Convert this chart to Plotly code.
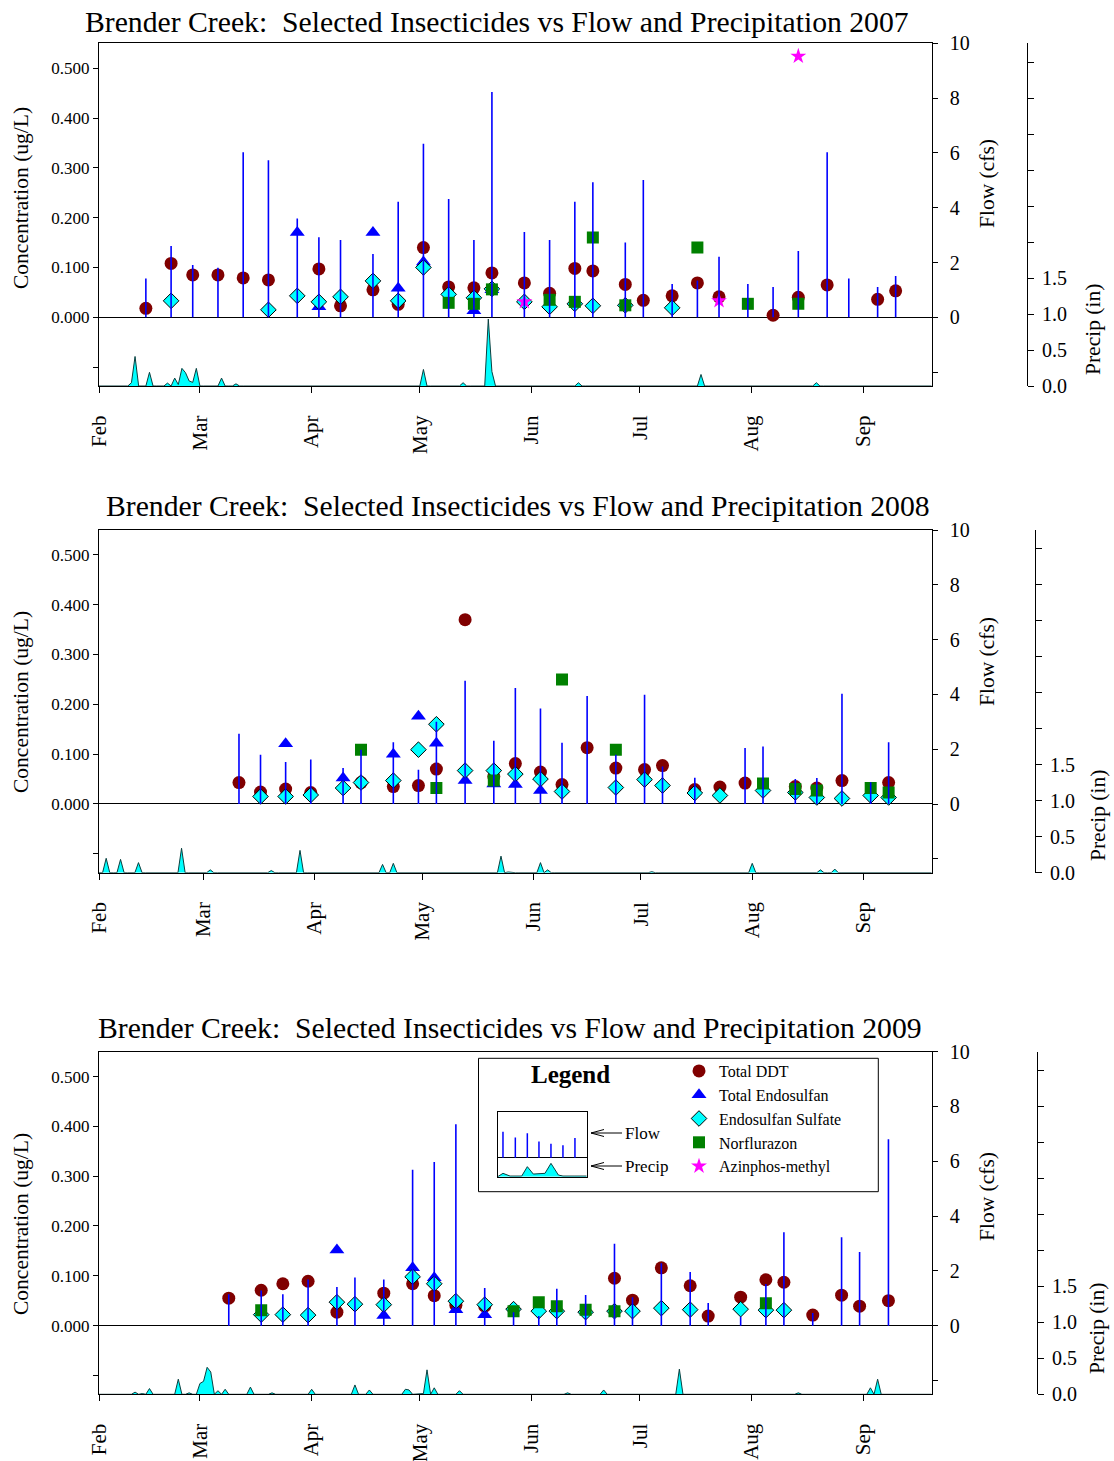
import pandas as pd
import plotly.graph_objects as go

FONT = "Liberation Serif"

# ---------------- 2007 ----------------
flow07_dates = ["2007-02-14","2007-02-21","2007-02-27","2007-03-06","2007-03-13","2007-03-20","2007-03-28","2007-04-03","2007-04-09","2007-04-18","2007-04-25","2007-05-02","2007-05-09","2007-05-16","2007-05-21","2007-05-30","2007-06-06","2007-06-13","2007-06-18","2007-06-27","2007-07-02","2007-07-10","2007-07-17","2007-07-23","2007-07-31","2007-08-07","2007-08-14","2007-08-22","2007-08-28","2007-09-05","2007-09-10"]
flow07 = [1.42,2.60,1.91,1.81,6.02,5.73,3.61,2.92,2.82,2.31,4.22,6.33,4.32,2.82,8.22,3.11,2.82,4.22,4.93,2.73,5.01,1.22,1.34,2.21,1.22,1.11,2.42,6.02,1.42,1.11,1.51]

ddt07_dates = ["2007-02-14","2007-02-21","2007-02-27","2007-03-06","2007-03-13","2007-03-20","2007-04-03","2007-04-09","2007-04-18","2007-04-25","2007-05-02","2007-05-09","2007-05-16","2007-05-21","2007-05-30","2007-06-06","2007-06-13","2007-06-18","2007-06-27","2007-07-02","2007-07-10","2007-07-17","2007-07-23","2007-08-07","2007-08-14","2007-08-22","2007-09-05","2007-09-10"]
ddt07 = [0.018,0.108,0.085,0.085,0.079,0.075,0.097,0.023,0.055,0.026,0.140,0.061,0.059,0.089,0.069,0.048,0.098,0.093,0.066,0.034,0.043,0.069,0.041,0.004,0.040,0.065,0.036,0.053]

endo07_dates = ["2007-03-28","2007-04-03","2007-04-18","2007-04-25","2007-05-02","2007-05-16","2007-05-21"]
endo07 = [0.170,0.021,0.170,0.058,0.111,0.013,0.055]

sulf07_dates = ["2007-02-21","2007-03-20","2007-03-28","2007-04-03","2007-04-09","2007-04-18","2007-04-25","2007-05-02","2007-05-09","2007-05-16","2007-05-21","2007-05-30","2007-06-06","2007-06-13","2007-06-18","2007-06-27","2007-07-10"]
sulf07 = [0.033,0.015,0.043,0.031,0.041,0.073,0.033,0.100,0.046,0.039,0.057,0.031,0.021,0.027,0.023,0.024,0.019]

norf07_dates = ["2007-05-09","2007-05-16","2007-05-21","2007-06-06","2007-06-13","2007-06-18","2007-06-27","2007-07-17","2007-07-31","2007-08-14"]
norf07 = [0.029,0.027,0.056,0.035,0.031,0.160,0.024,0.140,0.027,0.027]

azin07_dates = ["2007-05-30","2007-07-23","2007-08-14"]
azin07 = [0.031,0.033,0.524]

precip07_dates = ["2007-02-10","2007-02-11","2007-02-15","2007-02-20","2007-02-22","2007-02-23","2007-02-24","2007-02-25","2007-02-26","2007-02-27","2007-02-28","2007-03-07","2007-03-11","2007-03-27","2007-04-08","2007-05-02","2007-05-13","2007-05-20","2007-05-21","2007-06-14","2007-06-23","2007-07-18","2007-08-19","2007-09-19"]
precip07 = [0.046,0.41,0.19,0.04,0.11,0.02,0.245,0.185,0.07,0.05,0.245,0.11,0.03,0.005,0.005,0.23,0.046,0.93,0.20,0.046,0.01,0.16,0.046,0.01]

# ---------------- 2008 ----------------
flow08_dates = ["2008-03-11","2008-03-17","2008-03-24","2008-03-31","2008-04-09","2008-04-14","2008-04-23","2008-04-30","2008-05-05","2008-05-13","2008-05-21","2008-05-27","2008-06-03","2008-06-09","2008-06-16","2008-06-24","2008-07-02","2008-07-07","2008-07-16","2008-07-30","2008-08-04","2008-08-13","2008-08-19","2008-08-26","2008-09-03","2008-09-08"]
flow08 = [2.56,1.80,1.53,1.62,1.31,1.98,2.25,1.25,3.0,4.50,2.31,4.23,3.49,2.24,3.94,1.80,3.99,1.37,0.96,2.04,2.10,0.91,0.95,4.02,0.79,2.25]

ddt08_dates = ["2008-03-11","2008-03-17","2008-03-24","2008-03-31","2008-04-14","2008-04-23","2008-04-30","2008-05-05","2008-05-13","2008-05-21","2008-05-27","2008-06-03","2008-06-09","2008-06-16","2008-06-24","2008-07-02","2008-07-07","2008-07-16","2008-07-23","2008-07-30","2008-08-13","2008-08-19","2008-08-26","2008-09-08"]
ddt08 = [0.043,0.024,0.030,0.023,0.043,0.035,0.037,0.070,0.370,0.055,0.081,0.064,0.039,0.113,0.072,0.069,0.077,0.029,0.034,0.042,0.035,0.032,0.047,0.043]

endo08_dates = ["2008-03-24","2008-04-09","2008-04-23","2008-04-30","2008-05-05","2008-05-13","2008-05-21","2008-05-27","2008-06-03"]
endo08 = [0.121,0.052,0.100,0.176,0.122,0.047,0.040,0.039,0.027]

sulf08_dates = ["2008-03-17","2008-03-24","2008-03-31","2008-04-09","2008-04-14","2008-04-23","2008-04-30","2008-05-05","2008-05-13","2008-05-21","2008-05-27","2008-06-03","2008-06-09","2008-06-24","2008-07-02","2008-07-07","2008-07-16","2008-07-23","2008-08-04","2008-08-13","2008-08-19","2008-08-26","2008-09-03","2008-09-08"]
sulf08 = [0.015,0.015,0.018,0.032,0.043,0.047,0.109,0.160,0.067,0.067,0.060,0.050,0.025,0.033,0.049,0.037,0.022,0.017,0.027,0.023,0.013,0.011,0.017,0.013]

norf08_dates = ["2008-04-14","2008-05-05","2008-05-21","2008-06-09","2008-06-24","2008-08-04","2008-08-13","2008-08-19","2008-09-03","2008-09-08"]
norf08 = [0.109,0.032,0.047,0.250,0.109,0.041,0.030,0.027,0.032,0.023]

precip08_dates = ["2008-02-03","2008-02-07","2008-02-12","2008-02-24","2008-03-03","2008-03-14","2008-03-20","2008-03-26","2008-03-28","2008-04-20","2008-04-23","2008-05-10","2008-05-20","2008-05-23","2008-05-25","2008-06-03","2008-06-05","2008-07-04","2008-08-01","2008-08-09","2008-08-20","2008-08-24"]
precip08 = [0.20,0.185,0.14,0.34,0.04,0.005,0.03,0.005,0.31,0.115,0.13,0.005,0.005,0.23,0.01,0.14,0.04,0.014,0.13,0.01,0.04,0.05]

# ---------------- 2009 ----------------
flow09_dates = ["2009-03-09","2009-03-18","2009-03-24","2009-03-31","2009-04-08","2009-04-13","2009-04-21","2009-04-29","2009-05-05","2009-05-11","2009-05-19","2009-05-27","2009-06-03","2009-06-08","2009-06-16","2009-06-24","2009-06-29","2009-07-07","2009-07-15","2009-07-20","2009-07-29","2009-08-05","2009-08-10","2009-08-18","2009-08-26","2009-08-31","2009-09-08"]
flow09 = [1.15,1.28,1.15,1.68,1.41,1.76,1.68,5.69,5.97,7.35,1.37,0.49,0.35,1.35,1.12,2.99,1.04,2.28,1.96,0.83,0.32,1.52,3.41,0.46,3.23,2.69,6.80]

ddt09_dates = ["2009-03-09","2009-03-18","2009-03-24","2009-03-31","2009-04-08","2009-04-21","2009-04-29","2009-05-05","2009-05-11","2009-05-19","2009-06-24","2009-06-29","2009-07-07","2009-07-15","2009-07-20","2009-07-29","2009-08-05","2009-08-10","2009-08-18","2009-08-26","2009-08-31","2009-09-08"]
ddt09 = [0.055,0.071,0.084,0.089,0.027,0.065,0.084,0.060,0.041,0.039,0.095,0.051,0.116,0.080,0.019,0.057,0.092,0.087,0.021,0.061,0.039,0.050]

endo09_dates = ["2009-04-08","2009-04-21","2009-04-29","2009-05-05","2009-05-11","2009-05-19"]
endo09 = [0.152,0.020,0.116,0.096,0.032,0.022]

sulf09_dates = ["2009-03-18","2009-03-24","2009-03-31","2009-04-08","2009-04-13","2009-04-21","2009-04-29","2009-05-05","2009-05-11","2009-05-19","2009-05-27","2009-06-03","2009-06-08","2009-06-16","2009-06-24","2009-06-29","2009-07-07","2009-07-15","2009-07-29","2009-08-05","2009-08-10"]
sulf09 = [0.022,0.022,0.021,0.047,0.043,0.042,0.098,0.084,0.049,0.042,0.033,0.029,0.029,0.027,0.029,0.029,0.035,0.032,0.033,0.031,0.031]

norf09_dates = ["2009-03-18","2009-05-27","2009-06-03","2009-06-08","2009-06-16","2009-06-24","2009-08-05"]
norf09 = [0.031,0.029,0.047,0.039,0.032,0.029,0.045]

precip09_dates = ["2009-02-06","2009-02-11","2009-02-13","2009-02-15","2009-02-23","2009-02-26","2009-03-01","2009-03-02","2009-03-03","2009-03-04","2009-03-06","2009-03-08","2009-03-15","2009-03-21","2009-04-01","2009-04-11","2009-04-13","2009-04-17","2009-04-27","2009-04-28","2009-05-02","2009-05-03","2009-05-05","2009-05-12","2009-06-04","2009-06-11","2009-06-21","2009-07-12","2009-08-14","2009-09-03","2009-09-05"]
precip09 = [0.005,0.03,0.01,0.08,0.21,0.02,0.15,0.18,0.375,0.31,0.05,0.07,0.10,0.02,0.07,0.01,0.13,0.06,0.07,0.06,0.01,0.34,0.09,0.05,0.01,0.02,0.06,0.35,0.02,0.09,0.21]

# ---------------- legend inset (schematic) ----------------
inset_flow_x = [0.44,1.47,2.47,3.44,4.44,5.44,6.44]
inset_flow = [1.0,0.78,0.94,0.62,0.54,0.48,0.76]
inset_precip_x = [0,0.44,1.03,2.0,2.47,2.97,3.94,4.44,5.06,5.44,6.44,7.42]
inset_precip = [0,0.052,0.010,0.010,0.155,0.041,0.052,0.206,0.026,0.010,0.010,0.010]

series_names = ["Total DDT","Total Endosulfan","Endosulfan Sulfate","Norflurazon","Azinphos-methyl"]
month_start, month_end = "02-01", "09-20"

# ---------------- geometry helpers ----------------
W, H = 1114, 1461
ML, MR = 99, 74
PW = W - ML - MR
def px(x):
    return (x - ML) / PW
def py(y):
    return (H - y) / H

XDOM = [0, px(931.7)]

panels = [
    dict(year=2007, top=43.3, bot=386.0, tx=497, ty=22, cy=198, fy=184, ppy=330, pax=1027, ptx=1093,
         flow=(flow07_dates, flow07), precip=(precip07_dates, precip07),
         series=[(ddt07_dates, ddt07), (endo07_dates, endo07), (sulf07_dates, sulf07),
                 (norf07_dates, norf07), (azin07_dates, azin07)]),
    dict(year=2008, top=530.0, bot=872.7, tx=518, ty=506, cy=702, fy=662, ppy=816, pax=1035, ptx=1098,
         flow=(flow08_dates, flow08), precip=(precip08_dates, precip08),
         series=[(ddt08_dates, ddt08), (endo08_dates, endo08), (sulf08_dates, sulf08),
                 (norf08_dates, norf08), ([], [])]),
    dict(year=2009, top=1051.7, bot=1394.3, tx=510, ty=1028, cy=1224, fy=1197, ppy=1329, pax=1037, ptx=1097,
         flow=(flow09_dates, flow09), precip=(precip09_dates, precip09),
         series=[(ddt09_dates, ddt09), (endo09_dates, endo09), (sulf09_dates, sulf09),
                 (norf09_dates, norf09), ([], [])]),
]

marker_styles = [
    dict(symbol="circle", size=13, color="#800000"),
    dict(symbol="triangle-up", size=13, color="#0000ff"),
    dict(symbol="diamond", size=12, color="#00ffff", line=dict(color="black", width=1)),
    dict(symbol="square", size=12, color="#008000"),
    dict(symbol="star", size=12, color="#ff00ff"),
]

def sticks(dates, vals):
    xs, ys = [], []
    for d, v in zip(dates, vals):
        xs += [d, d, None]
        ys += [0, v, None]
    return xs, ys

def daily(year, dates, vals):
    idx = pd.date_range(f"{year}-{month_start}", f"{year}-{month_end}", freq="D")
    s = pd.Series(0.0, index=idx)
    for d, v in zip(dates, vals):
        s[pd.Timestamp(d)] = v
    return s

fig = go.Figure()
annotations = []
layout = {}
tickfont = dict(family=FONT, color="black")

for i, p in enumerate(panels):
    xid = "x" if i == 0 else f"x{i+1}"
    nc, nf, np_ = 3 * i + 1, 3 * i + 2, 3 * i + 3
    yc = "y" if nc == 1 else f"y{nc}"
    yf, yp = f"y{nf}", f"y{np_}"
    yr = p["year"]

    for k, (dates, vals) in enumerate(p["series"]):
        if not dates and i > 0:
            continue
        fig.add_trace(go.Scatter(x=dates, y=vals, mode="markers", name=series_names[k],
                                 marker=marker_styles[k], xaxis=xid, yaxis=yc,
                                 legendgroup=series_names[k], showlegend=(i == 0),
                                 legendrank=k + 1))
    fx, fyv = sticks(*p["flow"])
    fig.add_trace(go.Scatter(x=fx, y=fyv, mode="lines", line=dict(color="#0000ff", width=1.6),
                             xaxis=xid, yaxis=yf, showlegend=False, name="Flow"))
    s = daily(yr, *p["precip"])
    fig.add_trace(go.Scatter(x=s.index, y=s.values, mode="lines", fill="tozeroy",
                             fillcolor="#00ffff", line=dict(color="#0b3f3f", width=1),
                             xaxis=xid, yaxis=yp, showlegend=False, name="Precip"))

    dom = [py(p["bot"]), py(p["top"])]
    layout["xaxis" if i == 0 else f"xaxis{i+1}"] = dict(
        domain=XDOM, anchor=yc, type="date",
        range=[f"{yr}-{month_start}", f"{yr}-{month_end}"],
        tick0=f"{yr}-02-01", dtick="M1", tickformat="%b", tickangle=-90,
        ticks="outside", ticklen=6, tickcolor="black", showline=True, linecolor="black",
        linewidth=1, mirror=True, showgrid=False, zeroline=False, automargin=False,
        tickfont=dict(tickfont, size=21), ticklabelstandoff=14)
    layout["yaxis" if nc == 1 else f"yaxis{nc}"] = dict(
        domain=dom, anchor=xid, range=[-0.138, 0.550],
        tickvals=[-0.1, 0, 0.1, 0.2, 0.3, 0.4, 0.5],
        ticktext=["", "0.000", "0.100", "0.200", "0.300", "0.400", "0.500"],
        ticks="outside", ticklen=5, tickcolor="black", showline=True, linecolor="black",
        showgrid=False, zeroline=True, zerolinecolor="black", zerolinewidth=1, automargin=False,
        tickfont=dict(tickfont, size=17))
    layout[f"yaxis{nf}"] = dict(
        overlaying=yc, anchor=xid, side="right", range=[-2.507, 10],
        tickvals=[-2, 0, 2, 4, 6, 8, 10], ticktext=["", "0", "2", "4", "6", "8", "10"],
        ticks="outside", ticklen=5, tickcolor="black", showline=True, linecolor="black",
        showgrid=False, zeroline=False, automargin=False,
        tickfont=dict(tickfont, size=20), ticklabelstandoff=8)
    layout[f"yaxis{np_}"] = dict(
        overlaying=yc, anchor="free", position=px(p["pax"]), side="right", range=[0, 4.76],
        tickvals=[0, 0.5, 1.0, 1.5, 2.0, 2.5, 3.0, 3.5, 4.0, 4.5],
        ticktext=["0.0", "0.5", "1.0", "1.5", "", "", "", "", "", ""],
        ticks="outside", ticklen=6, tickcolor="black", showline=True, linecolor="black",
        showgrid=False, zeroline=False, automargin=False,
        tickfont=dict(tickfont, size=20), ticklabelstandoff=4)

    annotations.append(dict(text=f"Brender Creek:\u00a0 Selected Insecticides vs Flow and Precipitation {yr}",
                            x=px(p["tx"]), y=py(p["ty"]), xref="paper", yref="paper",
                            showarrow=False, font=dict(family=FONT, size=29.7, color="black"),
                            xanchor="center", yanchor="middle"))
    annotations.append(dict(text="Concentration (ug/L)", x=px(21), y=py(p["cy"]), xref="paper",
                            yref="paper", showarrow=False, textangle=-90,
                            font=dict(family=FONT, size=21.5, color="black"),
                            xanchor="center", yanchor="middle"))
    annotations.append(dict(text="Flow (cfs)", x=px(987), y=py(p["fy"]), xref="paper",
                            yref="paper", showarrow=False, textangle=-90,
                            font=dict(family=FONT, size=21.5, color="black"),
                            xanchor="center", yanchor="middle"))
    annotations.append(dict(text="Precip (in)", x=px(p["ptx"]), y=py(p["ppy"]), xref="paper",
                            yref="paper", showarrow=False, textangle=-90,
                            font=dict(family=FONT, size=21.5, color="black"),
                            xanchor="center", yanchor="middle"))

# ---------------- legend inset ----------------
ix, iy = sticks(inset_flow_x, inset_flow)
fig.add_trace(go.Scatter(x=ix, y=iy, mode="lines", line=dict(color="#0000ff", width=1.5),
                         xaxis="x4", yaxis="y10", showlegend=False, hoverinfo="skip"))
fig.add_trace(go.Scatter(x=inset_precip_x, y=inset_precip, mode="lines", fill="tozeroy",
                         fillcolor="#00ffff", line=dict(color="#0b3f3f", width=1),
                         xaxis="x4", yaxis="y11", showlegend=False, hoverinfo="skip"))
layout["xaxis4"] = dict(domain=[px(497.7), px(586.7)], anchor="y10", range=[0, 7.42],
                        showline=True, mirror=True, linecolor="black", showticklabels=False,
                        ticks="", showgrid=False, zeroline=False)
layout["yaxis10"] = dict(domain=[py(1176.7), py(1112)], anchor="x4", range=[-0.73, 1.76],
                         showline=True, mirror=True, linecolor="black", showticklabels=False,
                         ticks="", showgrid=False, zeroline=True, zerolinecolor="black",
                         zerolinewidth=1)
layout["yaxis11"] = dict(overlaying="y10", anchor="x4", range=[0, 1], visible=False)

annotations.append(dict(text="<b>Legend</b>", x=px(570), y=py(1074), xref="paper", yref="paper",
                        showarrow=False, font=dict(family=FONT, size=25, color="black"),
                        xanchor="center", yanchor="middle"))
annotations.append(dict(text="Flow", x=px(623), y=py(1133), xref="paper", yref="paper",
                        showarrow=False, font=dict(family=FONT, size=17, color="black"),
                        xanchor="left", yanchor="middle"))
annotations.append(dict(text="Precip", x=px(623), y=py(1166), xref="paper", yref="paper",
                        showarrow=False, font=dict(family=FONT, size=17, color="black"),
                        xanchor="left", yanchor="middle"))

shapes = [dict(type="rect", xref="paper", yref="paper", x0=px(478.5), x1=px(878.3),
               y0=py(1191.7), y1=py(1058.3), line=dict(color="black", width=1), layer="above")]
for yy in (1133, 1166):
    shapes.append(dict(type="line", xref="paper", yref="paper", x0=px(591), x1=px(622),
                       y0=py(yy), y1=py(yy), line=dict(color="black", width=1)))
    shapes.append(dict(type="line", xref="paper", yref="paper", x0=px(591), x1=px(604),
                       y0=py(yy), y1=py(yy - 3.5), line=dict(color="black", width=1)))
    shapes.append(dict(type="line", xref="paper", yref="paper", x0=px(591), x1=px(604),
                       y0=py(yy), y1=py(yy + 3.5), line=dict(color="black", width=1)))

fig.update_layout(
    width=W, height=H, margin=dict(l=ML, r=MR, t=0, b=0, autoexpand=False),
    paper_bgcolor="white", plot_bgcolor="white",
    font=dict(family=FONT, color="black"),
    annotations=annotations, shapes=shapes,
    showlegend=True,
    legend=dict(x=px(679), y=py(1054), xanchor="left", yanchor="top",
                bgcolor="rgba(0,0,0,0)", borderwidth=0, tracegroupgap=0,
                font=dict(family=FONT, size=16, color="black")),
    **layout,
)

fig.write_html("out.html", config={"displayModeBar": False},
               post_script="document.body.style.margin='0px';")
